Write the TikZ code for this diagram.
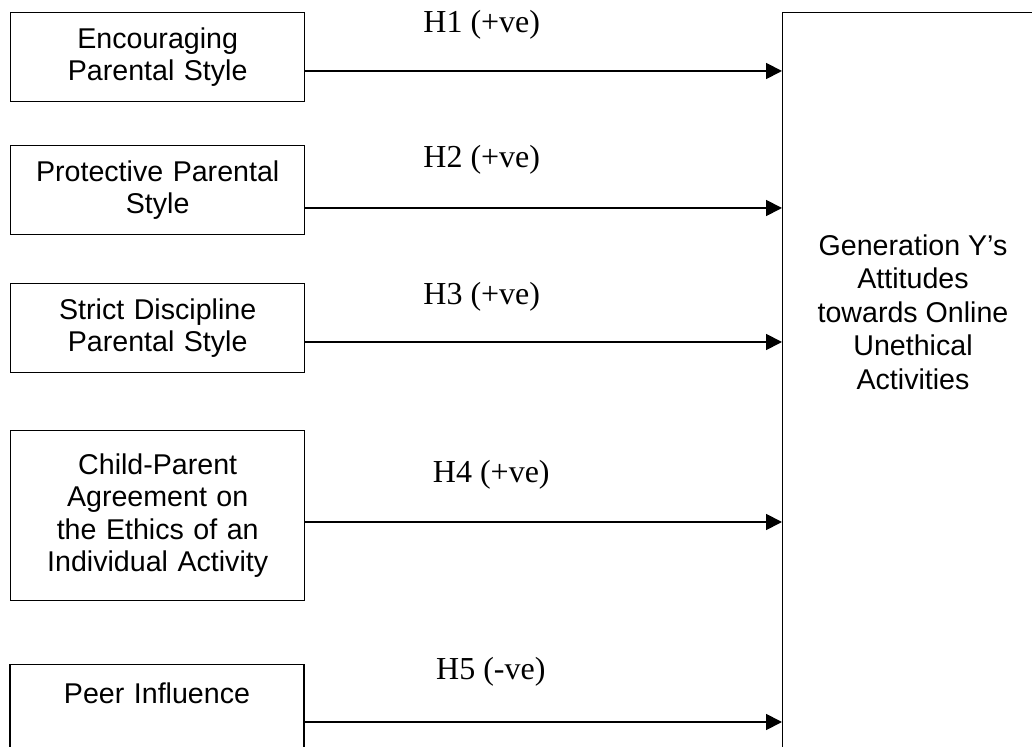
\documentclass[tikz,border=0pt]{standalone}
\usepackage{fontspec}
\setmainfont{Liberation Serif}
\setsansfont{Liberation Sans}
\usetikzlibrary{arrows.meta}
\tikzstyle{factor}=[draw=black,line width=0.7pt,anchor=north west,inner sep=0pt,
  minimum width=147pt,align=center,text width=140pt,
  font=\sffamily\fontsize{14.3}{16.3}\selectfont]
\tikzstyle{outcome}=[draw=black,line width=0.7pt,anchor=north west,inner sep=0pt,
  minimum width=131pt,minimum height=400pt]
\tikzstyle{link}=[line width=0.9pt,-{Triangle[length=8pt,width=8pt]}]
\tikzstyle{hyp}=[font=\fontsize{16}{19}\selectfont,inner sep=0pt]

\begin{document}
\begin{tikzpicture}[x=0.5pt,y=-0.5pt]
  \clip (0,0) rectangle (1032,747);
  % antecedents
  \node[factor,minimum height=44.5pt] (enc) at (10,12) {Encouraging\\Parental Style};
  \node[factor,minimum height=44.5pt] (prot) at (10,145) {Protective Parental\\Style};
  \node[factor,minimum height=44.5pt] (strict) at (10,283) {Strict Discipline\\Parental Style};
  \node[factor,minimum height=85pt] (agree) at (10,430) {Child-Parent\\Agreement on\\the Ethics of an\\Individual Activity};
  \node[factor,anchor=north,inner ysep=9pt,text depth=60pt] (peer) at (157,664) {Peer Influence};
  % outcome
  \node[outcome] (gen) at (782,12) {};
  \node[font=\sffamily\fontsize{14.3}{16.8}\selectfont,align=center] (genlabel) at (913,312)
    {Generation Y's\\Attitudes\\towards Online\\Unethical\\Activities};
  % arrow levels
  \coordinate (l1) at (0,71);
  \coordinate (l2) at (0,208);
  \coordinate (l3) at (0,342);
  \coordinate (l4) at (0,522);
  \coordinate (l5) at (0,722);
  \draw[link] (enc.east |- l1) -- (gen.west |- l1) node[hyp,pos=0.37,yshift=23pt] {H1 (+ve)};
  \draw[link] (prot.east |- l2) -- (gen.west |- l2) node[hyp,pos=0.37,yshift=24pt] {H2 (+ve)};
  \draw[link] (strict.east |- l3) -- (gen.west |- l3) node[hyp,pos=0.37,yshift=22.5pt] {H3 (+ve)};
  \draw[link] (agree.east |- l4) -- (gen.west |- l4) node[hyp,pos=0.39,yshift=23.5pt] {H4 (+ve)};
  \draw[link] (peer.east |- l5) -- (gen.west |- l5) node[hyp,pos=0.39,yshift=25pt] {H5 (-ve)};
\end{tikzpicture}
\end{document}
